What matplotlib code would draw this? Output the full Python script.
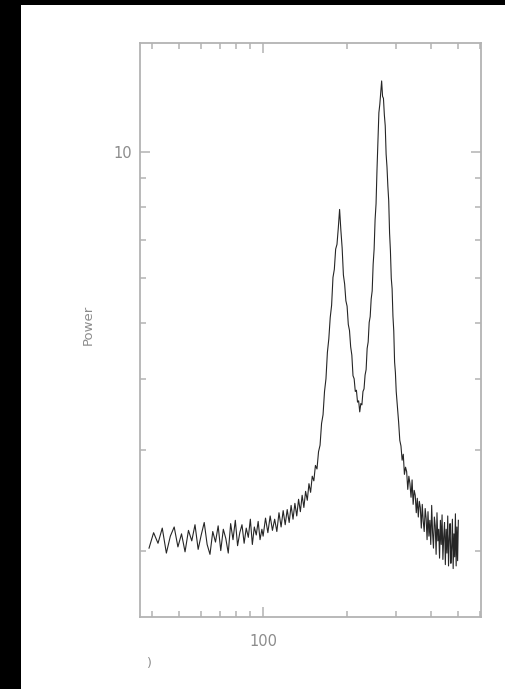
import matplotlib
matplotlib.use("Agg")
import matplotlib.pyplot as plt
from matplotlib.patches import Rectangle
from matplotlib.ticker import LogLocator, NullFormatter, FixedFormatter, FixedLocator

# Frequency bins and power
freq_low = [39, 40.5, 42, 43.5, 45, 46.5, 48, 49.5, 51, 52.5, 54, 55.5, 57, 58.5,
            60, 61.5, 63, 64.5, 66, 67.5, 69, 70.5, 72, 73.5, 75, 76.5, 78, 79.5,
            81, 82.5, 84, 85.5, 87, 88.5, 90, 91.5, 93, 94.5, 96, 97.5, 99]
power_low = [2.02, 2.15, 2.06, 2.19, 1.98, 2.12, 2.20, 2.03, 2.14, 1.99, 2.17, 2.08,
             2.22, 2.01, 2.13, 2.24, 2.05, 1.97, 2.16, 2.07, 2.21, 2.00, 2.18, 2.10,
             1.98, 2.23, 2.09, 2.26, 2.04, 2.15, 2.22, 2.06, 2.19, 2.11, 2.27, 2.05,
             2.20, 2.13, 2.25, 2.09, 2.18]

freq_rise = [100, 102, 104, 106, 108, 110, 112, 114, 116, 118, 120, 122, 124, 126,
             128, 130, 132, 134, 136, 138, 140, 142, 144, 146, 148, 150, 152, 154,
             156, 158]
power_rise = [2.12, 2.28, 2.15, 2.30, 2.17, 2.27, 2.16, 2.33, 2.20, 2.35, 2.22, 2.36,
              2.24, 2.40, 2.27, 2.42, 2.30, 2.46, 2.34, 2.50, 2.38, 2.54, 2.45, 2.62,
              2.53, 2.70, 2.65, 2.82, 2.78, 2.98]

freq_peaks = [160, 162, 164, 166, 168, 170, 172, 174, 176, 178, 180, 182, 184, 186,
              188, 190, 192, 194, 196, 198, 200, 202, 204, 206, 208, 210, 212, 214,
              216, 218, 220, 222, 224, 226, 228, 230, 232, 234, 236, 238, 240, 242,
              244, 246, 248, 250, 252, 254, 256, 258, 260, 262, 264, 266, 268, 270,
              272, 274, 276, 278, 280, 282, 284, 286, 288, 290, 292, 294, 296, 298, 300]
power_peaks = [3.06, 3.34, 3.46, 3.80, 4.00, 4.45, 4.70, 5.12, 5.38, 6.02, 6.22, 6.75,
               6.88, 7.35, 7.92, 7.28, 6.78, 6.08, 5.86, 5.48, 5.36, 4.98, 4.86, 4.55,
               4.40, 4.05, 4.00, 3.80, 3.82, 3.64, 3.66, 3.50, 3.62, 3.60, 3.80, 3.84,
               4.06, 4.15, 4.52, 4.64, 5.02, 5.14, 5.52, 5.70, 6.35, 6.75, 7.60, 8.10,
               9.30, 10.40, 11.70, 12.10, 12.70, 13.30, 12.50, 12.40, 11.60, 11.10,
               9.90, 9.40, 8.70, 8.20, 7.20, 6.70, 6.00, 5.75, 5.15, 4.85, 4.28, 4.10,
               3.80]

freq_tail = [303, 306, 309, 312, 315, 318, 321, 324, 327, 330, 333, 336, 339, 342,
             345, 348, 351, 354, 357, 360, 363, 366, 369, 372, 375, 378, 381, 384,
             387, 390, 393, 396, 399, 402, 405, 408, 411, 414, 417, 420, 423, 426,
             429, 432, 435, 438, 441, 444, 447, 450, 453, 456, 459, 462, 465, 468,
             471, 474, 477, 480, 483, 486, 489, 492, 495, 498, 501]
power_tail = [3.58, 3.36, 3.12, 3.05, 2.88, 2.95, 2.72, 2.80, 2.75, 2.56, 2.70, 2.62,
              2.48, 2.66, 2.41, 2.55, 2.50, 2.33, 2.47, 2.29, 2.44, 2.38, 2.19, 2.41,
              2.25, 2.16, 2.37, 2.28, 2.09, 2.34, 2.12, 2.26, 2.05, 2.40, 2.15, 2.02,
              2.29, 2.21, 1.97, 2.33, 2.08, 2.18, 1.94, 2.26, 2.05, 2.31, 1.93, 2.12,
              2.24, 1.89, 2.18, 1.98, 2.30, 1.88, 2.10, 2.23, 1.90, 2.02, 2.27, 1.86,
              2.14, 1.95, 2.32, 1.88, 2.20, 1.92, 2.26]

freq = freq_low + freq_rise + freq_peaks + freq_tail
power = power_low + power_rise + power_peaks + power_tail

x_range = (36.2, 604)
y_range = (1.53, 15.5)

W, H = 506, 689
axis_grey = "#b3b3b3"
text_grey = "#8c8c8c"

fig = plt.figure(figsize=(W / 100, H / 100), dpi=100)
fig.patch.set_facecolor("white")

# black frame strips on the left and top of the image
fig.patches.append(Rectangle((0, 0), 21 / W, 1, transform=fig.transFigure,
                             facecolor="black", edgecolor="none", zorder=0))
fig.patches.append(Rectangle((0, 1 - 5 / H), 1, 5 / H, transform=fig.transFigure,
                             facecolor="black", edgecolor="none", zorder=0))

ax = fig.add_axes([140 / W, 1 - 617 / H, (481 - 140) / W, (617 - 43) / H])
ax.plot(freq, power, color="black", linewidth=0.8, alpha=0.85)

ax.set_xscale("log")
ax.set_yscale("log")
ax.set_xlim(*x_range)
ax.set_ylim(*y_range)

ax.xaxis.set_major_locator(FixedLocator([100]))
ax.xaxis.set_major_formatter(FixedFormatter(["100"]))
ax.xaxis.set_minor_locator(LogLocator(base=10, subs=range(2, 10)))
ax.xaxis.set_minor_formatter(NullFormatter())
ax.yaxis.set_major_locator(FixedLocator([10]))
ax.yaxis.set_major_formatter(FixedFormatter(["10"]))
ax.yaxis.set_minor_locator(LogLocator(base=10, subs=range(2, 10)))
ax.yaxis.set_minor_formatter(NullFormatter())

for s in ax.spines.values():
    s.set_color(axis_grey)
    s.set_linewidth(1.3)

ax.tick_params(which="both", direction="in", top=True, right=True,
               color=axis_grey, width=1.1, labelcolor=text_grey, labelsize=10.5)
ax.tick_params(which="major", length=7)
ax.tick_params(which="minor", length=4)
ax.tick_params(axis="x", which="major", pad=12)
ax.tick_params(axis="y", which="major", pad=6)

fig.text(88 / W, 1 - 325 / H, "Power", rotation=90, color=text_grey,
         fontsize=9.5, ha="center", va="center")
fig.text(149 / W, 1 - 664 / H, ")", color=text_grey, fontsize=9,
         ha="center", va="center")

fig.savefig("out.png", dpi=100)
